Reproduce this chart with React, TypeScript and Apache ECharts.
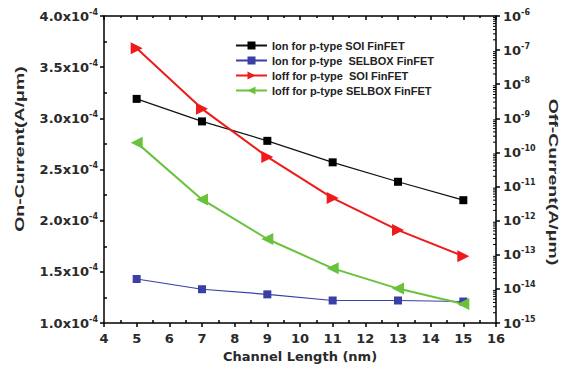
import React, { useEffect, useRef } from "react";
import * as echarts from "echarts";

// Channel length (nm)
const channelLength = [5, 7, 9, 11, 13, 15];
// On-current, in units of 1e-4 A/μm (left axis)
const ionSoi = [3.19, 2.97, 2.78, 2.57, 2.38, 2.2];
const ionSelbox = [1.43, 1.33, 1.28, 1.22, 1.22, 1.21];
// Off-current, A/μm (right log axis)
const ioffSoi = [1.13e-7, 1.9e-9, 7.4e-11, 4.6e-12, 5.3e-13, 9.1e-14];
const ioffSelbox = [1.94e-10, 4.2e-12, 2.9e-13, 4.0e-14, 1.02e-14, 3.6e-15];

const seriesNames = [
  "Ion for p-type SOI FinFET",
  "Ion for p-type  SELBOX FinFET",
  "Ioff for p-type  SOI FinFET",
  "Ioff for p-type SELBOX FinFET",
];

const leftAxisTitle = "On-Current(A/μm)";
const rightAxisTitle = "Off-Current(A/μm)";
const bottomAxisTitle = "Channel Length (nm)";

// log axis decades (exponents) for minor tick decoration
const decades = [-15, -14, -13, -12, -11, -10, -9, -8, -7];
const minorMultipliers = [2, 3, 4, 5, 6, 7, 8, 9];

const FONT = "Liberation Sans, Arial, sans-serif";
const WIDE = "DejaVu Sans, sans-serif";
const TXT = "#2a2a2a";

export default function App() {
  const ref = useRef<HTMLDivElement>(null);
  useEffect(() => {
    if (!ref.current) return;
    const chart = echarts.init(ref.current, undefined, { renderer: "svg" });
    const pair = (ys: number[]) => channelLength.map((x, i) => [x, ys[i]]);
    const logMinor: number[][] = [];
    decades.forEach((e) =>
      minorMultipliers.forEach((k) => logMinor.push([16, k * Math.pow(10, e)]))
    );
    const axisLine = { show: true, lineStyle: { color: "#000", width: 1.5 } };
    const labelRich = {
      b: { fontSize: 13, fontWeight: "bold", color: TXT, fontFamily: WIDE, lineHeight: 16 },
      s: { fontSize: 8, fontWeight: "bold", color: TXT, fontFamily: WIDE, lineHeight: 8, verticalAlign: "top" },
    };
    const tickStyle = { color: "#000", width: 1.5 };
    chart.setOption({
      animation: false,
      backgroundColor: "#fff",
      textStyle: { fontFamily: FONT },
      grid: { left: 104, right: 65, top: 16, bottom: 50 },
      legend: {
        data: seriesNames,
        orient: "vertical",
        left: 230,
        top: 35,
        itemWidth: 31,
        itemHeight: 10,
        itemGap: 4,
        textStyle: { fontSize: 11, fontWeight: "bold", color: "#222", fontFamily: FONT },
      },
      graphic: [
        {
          type: "text",
          x: 20,
          y: 149,
          rotation: Math.PI / 2,
          scaleX: 1.5,
          style: {
            text: leftAxisTitle,
            fontSize: 13,
            fontWeight: "bold",
            fontFamily: FONT,
            fill: TXT,
            align: "center",
            verticalAlign: "middle",
          },
        },
        {
          type: "text",
          x: 553,
          y: 182,
          rotation: -Math.PI / 2,
          scaleX: 1.5,
          style: {
            text: rightAxisTitle,
            fontSize: 13,
            fontWeight: "bold",
            fontFamily: FONT,
            fill: TXT,
            align: "center",
            verticalAlign: "middle",
          },
        },
      ],
      xAxis: [
        {
          type: "value",
          min: 4,
          max: 16,
          interval: 1,
          position: "bottom",
          name: bottomAxisTitle,
          nameLocation: "middle",
          nameGap: 26,
          nameTextStyle: { fontSize: 13, fontWeight: "bold", color: TXT, fontFamily: WIDE },
          axisLine,
          axisTick: { show: true, inside: false, length: 4, lineStyle: tickStyle },
          minorTick: { show: true, splitNumber: 2, length: -3, lineStyle: tickStyle },
          splitLine: { show: false },
          axisLabel: { fontSize: 13, fontWeight: "bold", color: TXT, margin: 9, fontFamily: WIDE },
        },
        {
          type: "value",
          min: 4,
          max: 16,
          interval: 1,
          position: "top",
          axisLine,
          axisTick: { show: true, inside: true, length: 4, lineStyle: tickStyle },
          minorTick: { show: true, splitNumber: 2, length: 2, lineStyle: tickStyle },
          splitLine: { show: false },
          axisLabel: { show: false },
        },
      ],
      yAxis: [
        {
          type: "value",
          min: 1,
          max: 4,
          interval: 0.5,
          position: "left",
          axisLine,
          axisTick: { show: true, inside: false, length: 4, lineStyle: tickStyle },
          minorTick: { show: true, splitNumber: 2, length: -3, lineStyle: tickStyle },
          splitLine: { show: false },
          axisLabel: {
            margin: 6,
            formatter: (v: number) => `{b|${v.toFixed(1)}x10}{s|-4}`,
            rich: labelRich,
          },
        },
        {
          type: "log",
          logBase: 10,
          min: 1e-15,
          max: 1e-6,
          interval: 1,
          splitNumber: 9,
          position: "right",
          axisLine,
          axisTick: { show: true, inside: false, length: 4, lineStyle: tickStyle },
          minorTick: { show: false },
          splitLine: { show: false },
          axisLabel: {
            margin: 7,
            formatter: (v: number) => `{b|10}{s|${Math.round(Math.log10(v))}}`,
            rich: labelRich,
          },
        },
      ],
      series: [
        {
          name: seriesNames[0],
          type: "line",
          xAxisIndex: 0,
          yAxisIndex: 0,
          data: pair(ionSoi),
          symbol: "rect",
          symbolSize: 8,
          itemStyle: { color: "#000" },
          lineStyle: { color: "#111", width: 1.2 },
        },
        {
          name: seriesNames[1],
          type: "line",
          xAxisIndex: 0,
          yAxisIndex: 0,
          data: pair(ionSelbox),
          symbol: "rect",
          symbolSize: 8,
          itemStyle: { color: "#3a3fa6" },
          lineStyle: { color: "#3a3fa6", width: 1.2 },
        },
        {
          name: seriesNames[2],
          type: "line",
          xAxisIndex: 0,
          yAxisIndex: 1,
          data: pair(ioffSoi),
          symbol: "triangle",
          symbolRotate: -90,
          symbolSize: 12,
          itemStyle: { color: "#f01a1a" },
          lineStyle: { color: "#f01a1a", width: 2 },
        },
        {
          name: seriesNames[3],
          type: "line",
          xAxisIndex: 0,
          yAxisIndex: 1,
          data: pair(ioffSelbox),
          symbol: "triangle",
          symbolRotate: 90,
          symbolSize: 12,
          itemStyle: { color: "#69c23c" },
          lineStyle: { color: "#69c23c", width: 2 },
        },
        {
          type: "custom",
          xAxisIndex: 0,
          yAxisIndex: 1,
          silent: true,
          clip: false,
          data: logMinor,
          renderItem: (params: any, api: any) => {
            const p = api.coord([api.value(0), api.value(1)]);
            return {
              type: "line",
              shape: { x1: p[0] - 3, y1: p[1], x2: p[0], y2: p[1] },
              style: { stroke: "#000", lineWidth: 1 },
            };
          },
        },
      ],
    });
    return () => chart.dispose();
  }, []);
  return (
    <div
      ref={ref}
      style={{ position: "fixed", left: 0, top: 0, width: 561, height: 373, background: "#fff" }}
    />
  );
}
